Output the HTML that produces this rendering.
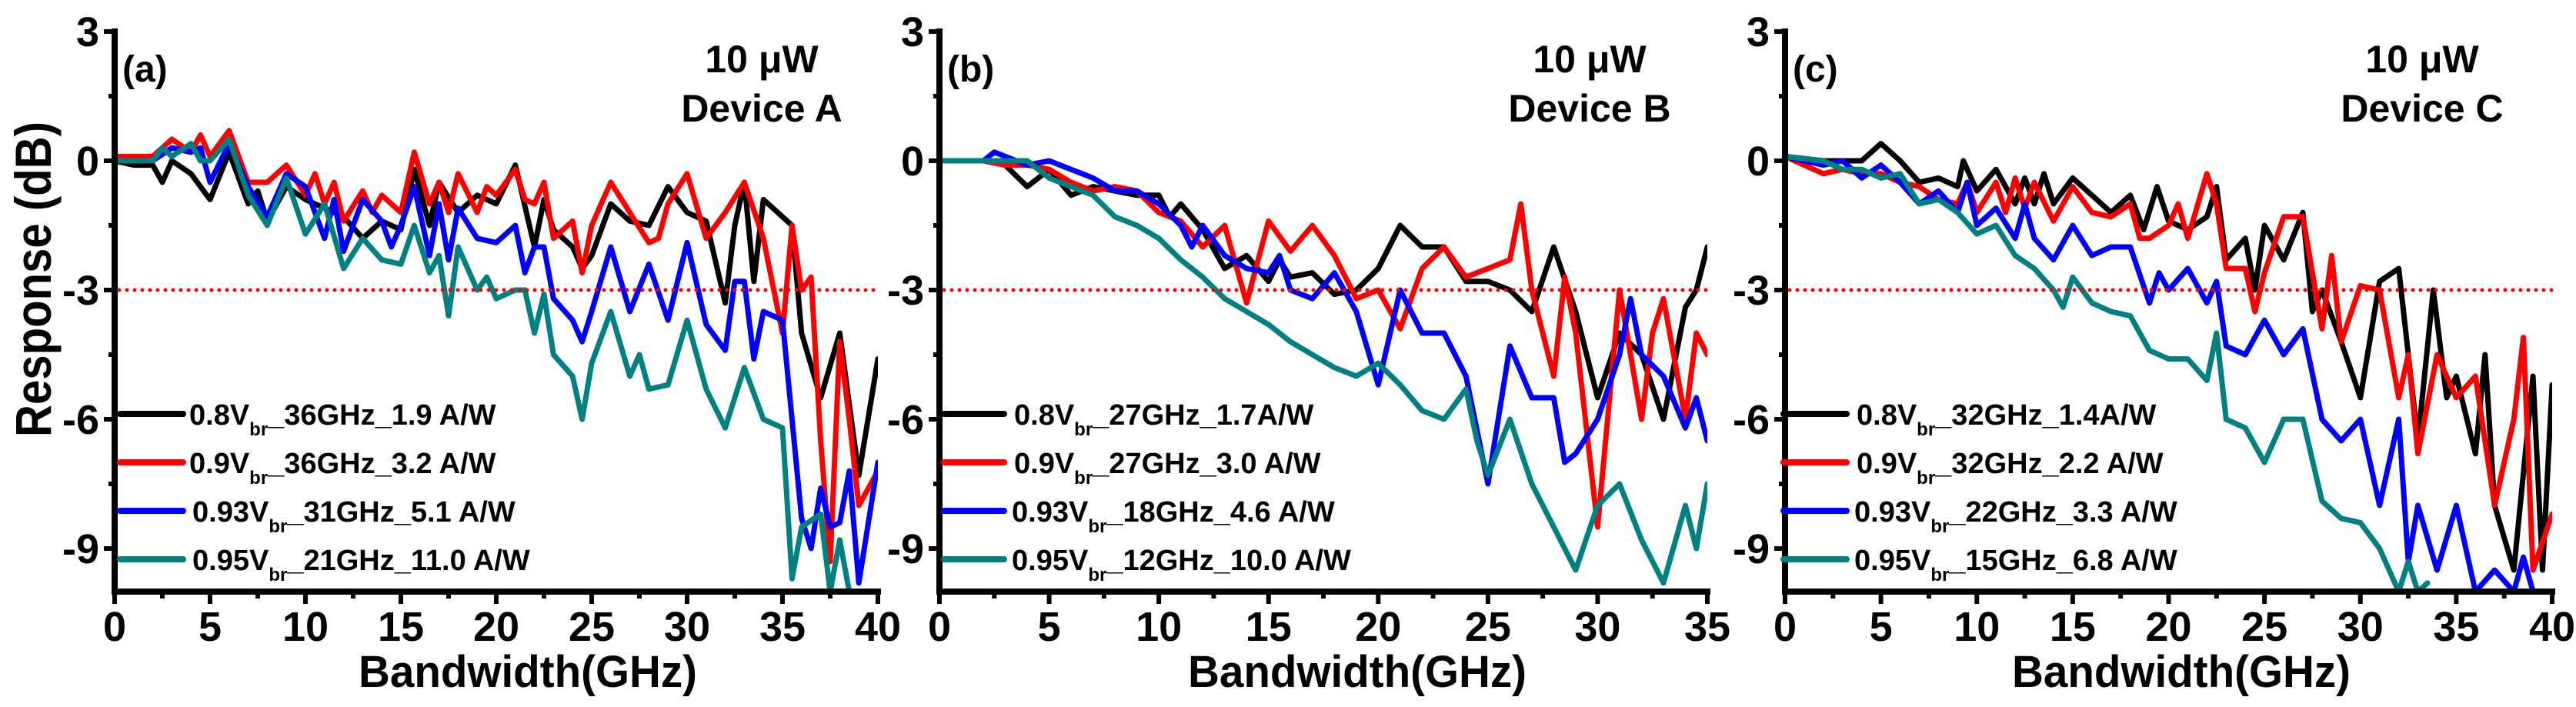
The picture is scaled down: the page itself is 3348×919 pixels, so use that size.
<!DOCTYPE html>
<html><head><meta charset="utf-8"><style>
html,body{margin:0;padding:0;background:#fff;}
svg{display:block;font-family:"Liberation Sans",Arial,sans-serif;font-weight:bold;}
</style></head><body>
<svg id="fig" width="3348" height="919" viewBox="0 0 3348 919" xmlns="http://www.w3.org/2000/svg">
<defs>
<clipPath id="clipA"><rect x="149" y="41" width="992" height="728"/></clipPath>
<clipPath id="clipB"><rect x="1221" y="41" width="998" height="728"/></clipPath>
<clipPath id="clipC"><rect x="2320" y="41" width="997" height="728"/></clipPath>
</defs>
<text x="0" y="0" transform="translate(66,363) rotate(-90)" text-anchor="middle" font-size="66" textLength="410" lengthAdjust="spacingAndGlyphs">Response (dB)</text>
</svg>
<script>
// ---------- data ----------
const yTicks = [3, 0, -3, -6, -9];
const yTickLabels = ["3", "0", "-3", "-6", "-9"];
const xTicksA = [0,5,10,15,20,25,30,35,40];
const xTicksB = [0,5,10,15,20,25,30,35];
const xTicksC = [0,5,10,15,20,25,30,35,40];
const thresholdDb = -3;

const aBlack = [[0,0],[1,-0.1],[2,-0.1],[2.5,-0.5],[3,0],[4,-0.3],[5,-0.9],[6,0.2],[7,-1.0],[7.5,-0.7],[8,-1.4],[9,-0.6],[10,-0.9],[11,-1.1],[12,-1.3],[13,-1.8],[14,-1.4],[15,-1.6],[15.7,-0.2],[16.5,-1.5],[17,-0.5],[18,-1.2],[19,-0.8],[20,-1.0],[21,-0.1],[22,-2.0],[22.5,-0.9],[23,-1.6],[24,-2.0],[24.5,-2.5],[25,-2.2],[26,-1.0],[27,-1.4],[28,-1.5],[29,-0.6],[30,-1.2],[31,-1.4],[32,-3.3],[32.5,-1.5],[33,-0.5],[33.5,-2.8],[34,-0.9],[35,-1.3],[35.5,-1.5],[36,-4.0],[37,-5.5],[38,-4.0],[39,-7.3],[40,-4.6]];
const aRed = [[0,0.1],[2,0.1],[3,0.5],[4,0.2],[4.5,0.6],[5,0.1],[6,0.7],[7,-0.5],[8,-0.5],[9,-0.1],[10,-0.8],[10.5,-0.3],[11,-1.0],[11.5,-0.5],[12,-1.4],[13,-0.7],[13.5,-1.2],[14,-0.8],[15,-1.2],[15.7,0.2],[16.5,-1.0],[17,-0.5],[17.5,-1.2],[18,-0.3],[19,-1.2],[19.5,-0.6],[20,-0.8],[21,-0.2],[21.5,-0.9],[22,-1.0],[22.5,-0.5],[23,-1.8],[24,-1.4],[24.5,-2.6],[25,-1.5],[26,-0.5],[27,-1.2],[28,-1.9],[28.5,-1.8],[29,-1.0],[30,-0.3],[31,-1.8],[32,-1.2],[33,-0.5],[34,-1.8],[35,-4.0],[35.5,-1.5],[36,-3.0],[36.5,-2.7],[37,-6.5],[37.5,-9.3],[38,-4.2],[38.5,-6.0],[39,-8.0],[40,-7.2]];
const aBlue = [[0,0],[2,0],[3,0.3],[4,0.2],[4.5,0.3],[5,-0.5],[6,0.4],[7,-0.6],[8,-1.3],[9,-0.3],[10,-0.6],[11,-1.8],[11.5,-0.9],[12,-2.1],[13,-0.9],[14,-1.4],[14.5,-2.0],[15,-1.5],[15.7,-0.6],[16.5,-2.2],[17,-1.0],[17.5,-2.3],[18,-1.1],[19,-1.8],[20,-1.9],[21,-1.5],[21.5,-2.6],[22,-2.0],[22.5,-2.0],[23,-3.2],[24,-3.7],[24.5,-4.2],[25,-3.5],[26,-2.0],[27,-3.5],[28,-2.4],[29,-3.7],[30,-1.9],[31,-3.8],[32,-4.4],[32.5,-2.8],[33,-2.8],[33.5,-4.6],[34,-3.5],[35,-3.7],[36,-8.3],[36.5,-9.0],[37,-7.6],[37.5,-8.5],[38,-8.4],[38.5,-7.2],[39,-9.8],[40,-7.0]];
const aTeal = [[0,0],[1,0],[2,0],[2.5,0.3],[3,0.1],[4,0.4],[4.5,0],[5,0],[6,0.5],[7,-0.8],[8,-1.5],[9,-0.4],[10,-1.7],[11,-1.0],[12,-2.5],[13,-1.8],[14,-2.3],[15,-2.4],[15.7,-1.5],[16.5,-2.6],[17,-2.2],[17.5,-3.6],[18,-2.0],[19,-3.0],[19.5,-2.7],[20,-3.2],[21,-3.0],[21.5,-3.0],[22,-4.0],[22.5,-3.1],[23,-4.5],[24,-5.0],[24.5,-6.0],[25,-4.7],[26,-3.5],[27,-5.0],[27.5,-4.5],[28,-5.3],[29,-5.2],[30,-3.7],[31,-5.3],[32,-6.2],[33,-4.8],[34,-6.0],[35,-6.2],[35.5,-9.7],[36,-8.5],[37,-8.2],[37.5,-10],[38,-8.8],[38.5,-10],[39,-10]];

const bBlack = [[0,0],[2,0],[3,-0.1],[4,-0.6],[5,-0.2],[6,-0.8],[7,-0.6],[8,-0.7],[9,-0.8],[10,-0.8],[10.5,-1.3],[11,-1.0],[12,-1.6],[13,-2.5],[14,-2.2],[15,-2.8],[15.5,-2.3],[16,-2.7],[17,-2.6],[18,-3.1],[19,-3.0],[20,-2.5],[21,-1.5],[22,-2.0],[23,-2.0],[24,-2.8],[25,-2.8],[26,-3.0],[27,-3.5],[28,-2.0],[29,-3.5],[30,-5.5],[31,-4.0],[32,-4.5],[33,-6.0],[34,-3.4],[34.5,-3.0],[35,-2.0]];
const bRed = [[0,0],[2,0],[3,-0.1],[4,-0.1],[5,-0.2],[6,-0.5],[7,-0.7],[8,-0.6],[9,-0.7],[10,-1.2],[11,-1.4],[12,-2.0],[13,-1.5],[14,-3.3],[15,-1.4],[16,-2.1],[17,-1.5],[18,-2.2],[19,-3.2],[20,-3.0],[21,-3.9],[22,-2.5],[23,-2.0],[24,-2.7],[25,-2.5],[26,-2.3],[26.5,-1.0],[27,-3.0],[28,-5.0],[28.5,-2.7],[29,-4.0],[30,-8.5],[31,-3.0],[31.5,-4.5],[32,-6.0],[32.5,-4.0],[33,-3.2],[34,-6.0],[34.5,-4.0],[35,-4.5]];
const bBlue = [[0,0],[2,0],[2.5,0.2],[4,-0.1],[5,0],[6,-0.2],[7,-0.4],[8,-0.7],[9,-0.7],[10,-1.0],[11,-1.5],[11.5,-2.0],[12,-1.5],[13,-2.2],[14,-2.5],[15,-2.6],[15.5,-2.2],[16,-3.0],[17,-3.2],[18,-2.6],[19,-3.5],[20,-5.2],[21,-3.0],[22,-4.0],[23,-4.0],[24,-5.0],[25,-7.5],[26,-4.3],[27,-5.5],[28,-5.5],[28.5,-7.0],[29,-6.8],[30,-6.0],[31,-4.5],[31.5,-3.2],[32,-4.5],[33,-5.0],[34,-6.2],[34.5,-5.5],[35,-6.5]];
const bTeal = [[0,0],[2,0],[3,0],[4,0],[5,-0.4],[6,-0.6],[7,-0.8],[8,-1.3],[9,-1.5],[10,-1.8],[11,-2.3],[12,-2.7],[13,-3.2],[14,-3.5],[15,-3.8],[16,-4.2],[17,-4.5],[18,-4.8],[19,-5.0],[20,-4.7],[21,-5.2],[22,-5.8],[23,-6.0],[24,-5.3],[24.5,-6.5],[25,-7.3],[26,-6.0],[27,-7.5],[28,-8.5],[29,-9.5],[30,-8.0],[31,-7.5],[32,-8.8],[33,-9.8],[34,-8.0],[34.5,-9.0],[35,-7.5]];

const cBlack = [[0,0.1],[2,0],[3,0],[4,0],[5,0.4],[6,0],[7,-0.5],[8,-0.4],[9,-0.6],[9.3,0],[10,-0.7],[11,-0.2],[12,-1.0],[12.5,-0.4],[13,-1.0],[13.5,-0.3],[14,-1.0],[15,-0.4],[16,-0.8],[17,-1.2],[18,-0.8],[18.7,-1.6],[19.4,-0.6],[20,-1.4],[21,-1.6],[22,-1.3],[22.5,-0.6],[23,-2.3],[24,-1.8],[24.5,-3.0],[25,-1.5],[26,-2.3],[27,-1.2],[27.5,-3.5],[28,-3.0],[29,-4.2],[30,-5.5],[31,-2.8],[32,-2.5],[33,-6.5],[33.8,-3.0],[34.5,-5.5],[35,-5.0],[36,-6.8],[36.5,-4.5],[37,-8.0],[38,-9.5],[39,-5.0],[39.5,-9.5],[40,-5.2]];
const cRed = [[0,0.1],[2,-0.3],[3,-0.2],[4,-0.3],[5,-0.3],[6,-0.5],[7,-0.6],[8,-0.9],[9,-1.0],[9.5,-0.5],[10,-1.2],[11,-0.5],[11.5,-1.2],[12,-0.4],[12.5,-1.1],[13,-0.5],[14,-1.4],[15,-0.6],[16,-1.2],[17,-1.3],[18,-1.0],[18.5,-1.8],[19,-1.8],[20,-1.5],[20.5,-1.0],[21,-1.8],[22,-0.3],[22.5,-1.0],[23,-2.5],[24,-2.5],[24.5,-3.5],[25,-2.6],[26,-1.3],[27,-1.3],[28,-3.9],[28.5,-2.2],[29,-4.2],[30,-2.9],[31,-3.0],[32,-5.5],[32.5,-4.5],[33,-6.8],[34,-4.5],[35,-5.5],[36,-5.0],[37,-8.0],[38,-6.0],[38.5,-4.1],[39,-9.5],[40,-8.2]];
const cBlue = [[0,0.1],[2,-0.1],[3,0],[4,-0.4],[5,-0.1],[6,-0.5],[7,-1.0],[8,-0.7],[9,-1.2],[9.5,-0.5],[10,-1.5],[11,-1.1],[12,-1.8],[12.5,-1.0],[13,-1.8],[14,-2.3],[15,-1.5],[16,-2.2],[17,-2.0],[18,-2.0],[19,-3.3],[19.5,-2.6],[20,-3.0],[21,-2.5],[22,-3.3],[22.5,-2.8],[23,-4.3],[24,-4.5],[25,-3.7],[26,-4.5],[27,-3.9],[28,-6.0],[29,-6.5],[30,-6.0],[31,-8.0],[32,-6.0],[32.5,-9.3],[33,-8.0],[34,-9.5],[35,-8.0],[36,-10],[37,-9.5],[38,-10],[38.5,-9.2],[39,-10]];
const cTeal = [[0,0.1],[2,0],[3,-0.2],[4,-0.2],[5,-0.4],[6,-0.3],[7,-1.0],[8,-0.9],[9,-1.2],[10,-1.7],[11,-1.5],[12,-2.2],[13,-2.5],[14,-3.0],[14.5,-3.4],[15,-2.7],[16,-3.3],[17,-3.5],[18,-3.6],[19,-4.4],[20,-4.6],[21,-4.6],[22,-5.1],[22.5,-4.0],[23,-6.0],[24,-6.2],[25,-7.0],[26,-6.0],[27,-6.0],[28,-7.9],[29,-8.3],[30,-8.4],[31,-9.0],[32,-10],[32.5,-9.3],[33,-10],[33.5,-9.8]];

const legendA = ["0.8V|36GHz_1.9 A/W","0.9V|36GHz_3.2 A/W","0.93V|31GHz_5.1 A/W","0.95V|21GHz_11.0 A/W"];
const legendB = ["0.8V|27GHz_1.7A/W","0.9V|27GHz_3.0 A/W","0.93V|18GHz_4.6 A/W","0.95V|12GHz_10.0 A/W"];
const legendC = ["0.8V|32GHz_1.4A/W","0.9V|32GHz_2.2 A/W","0.93V|22GHz_3.3 A/W","0.95V|15GHz_6.8 A/W"];

// ---------- drawing ----------
const NS = "http://www.w3.org/2000/svg";
const svg = document.getElementById("fig");
const colors = ["#000000","#ff0000","#0000ff","#008080"];
const Y0 = 209, PXDB = 56, YMIN = -10, YMAX = 3;
function yScale(v){ return Y0 - v * PXDB; }
function mk(tag, attrs, parent){
  const e = document.createElementNS(NS, tag);
  for (const k in attrs) e.setAttribute(k, attrs[k]);
  (parent || svg).appendChild(e);
  return e;
}
const panels = [
  {id:"a", x0:149, x1:1141, xmax:40, ticks:xTicksA, series:[aBlack,aRed,aBlue,aTeal], legend:legendA, lineX0:156, lineX1:238, textX:[246,246,250,250], label:"(a)", dev:"Device A", cx:990, titleX:686},
  {id:"b", x0:1221, x1:2219, xmax:35, ticks:xTicksB, series:[bBlack,bRed,bBlue,bTeal], legend:legendB, lineX0:1227, lineX1:1305, textX:[1318,1318,1315,1315], label:"(b)", dev:"Device B", cx:2066, titleX:1764},
  {id:"c", x0:2320, x1:3317, xmax:40, ticks:xTicksC, series:[cBlack,cRed,cBlue,cTeal], legend:legendC, lineX0:2318, lineX1:2400, textX:[2413,2413,2410,2410], label:"(c)", dev:"Device C", cx:3148, titleX:2835}
];
const seriesNames = ["series-0p8vbr","series-0p9vbr","series-0p93vbr","series-0p95vbr"];
panels.forEach(p => {
  const xScale = v => p.x0 + (v / p.xmax) * (p.x1 - p.x0);
  const g = mk("g", {});
  
  
  const yTop = yScale(YMAX), yBot = yScale(YMIN);
  // series
  const sg = mk("g", {"clip-path":"url(#clip" + p.id.toUpperCase() + ")"}, g);
  p.series.forEach((s, i) => {
    const d = s.map((pt, j) => (j ? "L" : "M") + xScale(pt[0]).toFixed(1) + "," + yScale(pt[1]).toFixed(1)).join("");
    const path = mk("path", {d:d, fill:"none", stroke:colors[i], "stroke-width":7, "stroke-linejoin":"round", "stroke-linecap":"round"}, sg);
    
    
  });
  // threshold
  const th = mk("line", {x1:p.x0+6, x2:p.x1, y1:yScale(thresholdDb), y2:yScale(thresholdDb), stroke:"#ff0000", "stroke-width":5, "stroke-dasharray":"0 10", "stroke-linecap":"round"}, g);
  
  
  // axes
  const ax = mk("path", {d:"M"+p.x0+","+yTop+"L"+p.x0+","+yBot+"L"+p.x1+","+yBot, fill:"none", stroke:"#000", "stroke-width":8, "stroke-linecap":"square"}, g);
  
  
  // y ticks
  for (let v = YMIN + 1; v <= YMAX; v += 1.5) {
    const major = yTicks.includes(v);
    mk("line", {x1:p.x0, x2:p.x0 - (major ? 14 : 8), y1:yScale(v), y2:yScale(v), stroke:"#000", "stroke-width":6}, g);
  }
  yTicks.forEach((v, i) => {
    const t = mk("text", {x:p.x0 - 20, y:yScale(v) + 19, "text-anchor":"end", "font-size":54}, g);
    t.textContent = yTickLabels[i];
    
    
  });
  // x ticks
  for (let v = 0; v <= p.xmax + 0.01; v += 2.5) {
    const major = v % 5 === 0;
    mk("line", {x1:xScale(v), x2:xScale(v), y1:yBot, y2:yBot + (major ? 16 : 9), stroke:"#000", "stroke-width":6}, g);
  }
  p.ticks.forEach(v => {
    const t = mk("text", {x:xScale(v), y:833, "text-anchor":"middle", "font-size":54}, g);
    t.textContent = String(v);
    
    
  });
  const xt = mk("text", {x:p.titleX, y:893, "text-anchor":"middle", "font-size":58, textLength:440, lengthAdjust:"spacingAndGlyphs"}, g);
  xt.textContent = "Bandwidth(GHz)";
  
  
  // labels
  const pl = mk("text", {x:p.x0 + 10, y:106, "font-size":48}, g);
  pl.textContent = p.label;
  
  
  const pw = mk("text", {x:p.cx, y:94, "text-anchor":"middle", "font-size":50}, g);
  pw.textContent = "10 \u03bcW";
  
  
  const dv = mk("text", {x:p.cx, y:158, "text-anchor":"middle", "font-size":50}, g);
  dv.textContent = p.dev;
  
  
  // legend
  p.legend.forEach((lab, i) => {
    const ly = 538 + i * 63;
    const lg = mk("g", {}, g);
    
    
    mk("line", {x1:p.lineX0, x2:p.lineX1, y1:ly, y2:ly, stroke:colors[i], "stroke-width":8, "stroke-linecap":"round"}, lg);
    const parts = lab.split("|");
    const t = mk("text", {x:p.textX[i], y:ly + 14, "font-size":38}, lg);
    const t1 = mk("tspan", {}, t); t1.textContent = parts[0];
    const t2 = mk("tspan", {dy:14, "font-size":24}, t); t2.textContent = "br";
    const t3 = mk("tspan", {dy:-14}, t); t3.textContent = "_" + parts[1];
  });
});
</script>
</body></html>
